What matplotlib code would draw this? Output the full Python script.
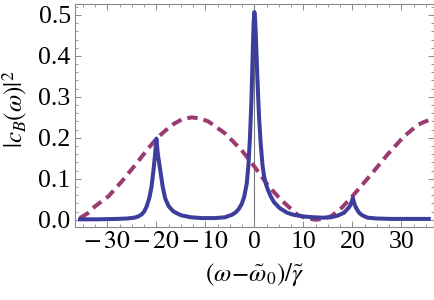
import matplotlib
matplotlib.use("Agg")
import matplotlib.pyplot as plt
from matplotlib.ticker import MultipleLocator, FixedLocator, FixedFormatter

# 读图得到的数据
blue_x = [-35.6, -32, -28, -26, -24.5, -23.7, -23, -22.5, -22, -21.4, -21, -20.6, -20.3, -20,
          -19.7, -19.2, -18.7, -18.2, -17.5, -16.5, -15, -13, -10.7, -8, -6, -4.6, -3.8, -3.2,
          -2.6, -2.1, -1.55, -1.2, -0.9, -0.6, -0.3, -0.15, 0, 0.15, 0.3, 0.6, 0.96, 1.3, 1.65,
          2.0, 2.35, 2.7, 3.3, 4.0, 5.2, 6.7, 8, 10, 12, 14, 15.6, 17, 18.3, 19.3, 19.7, 20.1, 20.5,
          20.9, 21.4, 22, 23.1, 25, 28, 32, 35.6]
blue_y = [0.001, 0.001, 0.002, 0.003, 0.005, 0.008, 0.013, 0.02, 0.032, 0.055, 0.08, 0.12, 0.155, 0.198,
          0.16, 0.12, 0.08, 0.052, 0.033, 0.02, 0.011, 0.006, 0.004, 0.004, 0.006, 0.012, 0.018, 0.026,
          0.038, 0.055, 0.088, 0.135, 0.2, 0.29, 0.42, 0.48, 0.507, 0.49, 0.45, 0.35, 0.25, 0.185, 0.135,
          0.105, 0.088, 0.075, 0.058, 0.043, 0.028, 0.017, 0.012, 0.008, 0.006, 0.005, 0.006, 0.01, 0.017, 0.03,
          0.038, 0.053, 0.036, 0.026, 0.017, 0.011, 0.005, 0.003, 0.002, 0.002, 0.002]

dash_x = [-35.6, -34, -32.5, -29.8, -27.1, -24.3, -21.6, -19.9, -16.9, -14.8, -12.8, -11, -9.4,
          -6.0, -2.6, 0, 2.7, 5.4, 8.8, 10.6, 12.5, 14, 15.6, 17.5, 19.7, 23.8, 27.1, 30.5, 33.3,
          34.5, 35.6]
dash_y = [0.004, 0.016, 0.033, 0.057, 0.093, 0.134, 0.175, 0.199, 0.231, 0.245, 0.25, 0.247, 0.24,
          0.211, 0.17, 0.13, 0.085, 0.049, 0.012, 0.004, 0.0, 0.002, 0.008, 0.025, 0.053, 0.11, 0.158,
          0.203, 0.231, 0.238, 0.243]

x_ticks = [-30, -20, -10, 0, 10, 20, 30]
x_ticklabels = [r'$-\,30$', r'$-\,20$', r'$-\,10$', '0', '10', '20', '30']
y_ticks = [0.0, 0.1, 0.2, 0.3, 0.4, 0.5]
y_ticklabels = ['0.0', '0.1', '0.2', '0.3', '0.4', '0.5']

plt.rcParams['font.family'] = ['Liberation Serif', 'DejaVu Serif']
plt.rcParams['mathtext.fontset'] = 'stix'

fig = plt.figure(figsize=(4.35, 3.0), dpi=100)
ax = fig.add_axes([0.172, 0.243, 0.826, 0.744])

blue = '#3d3d9c'
purple = '#9b3b72'
frame_col = '#8a8a8a'

ax.axvline(0, color='#777777', lw=0.8, zorder=1)
ax.plot(dash_x, dash_y, color=purple, lw=2.9, dashes=(2.6, 1.5), dash_capstyle='butt', zorder=2)
ax.plot(blue_x, blue_y, color=blue, lw=2.9, solid_joinstyle='round', zorder=3)

ax.set_xlim(-36.65, 36.7)
ax.set_ylim(-0.018, 0.527)

ax.xaxis.set_major_locator(FixedLocator(x_ticks))
ax.xaxis.set_major_formatter(FixedFormatter(x_ticklabels))
ax.xaxis.set_minor_locator(MultipleLocator(2.5))
ax.yaxis.set_major_locator(FixedLocator(y_ticks))
ax.yaxis.set_major_formatter(FixedFormatter(y_ticklabels))
ax.yaxis.set_minor_locator(MultipleLocator(0.02))

ax.tick_params(which='both', direction='in', top=True, right=True, color=frame_col,
               labelsize=18.5, labelcolor='black', pad=3)
ax.tick_params(which='major', length=4.5, width=0.7)
ax.tick_params(which='minor', length=2.3, width=0.6)

for sp in ax.spines.values():
    sp.set_color(frame_col)
    sp.set_linewidth(0.8)

ax.set_ylabel(r'$|c_B(\omega)|^2$', fontsize=18)
ax.yaxis.set_label_coords(-0.124, 0.53)
ax.set_xlabel(r'$(\omega\!-\!\tilde{\omega}_0)/\tilde{\gamma}$', fontsize=18)
ax.xaxis.set_label_coords(0.5, -0.15)

fig.savefig('out.png', dpi=100)
